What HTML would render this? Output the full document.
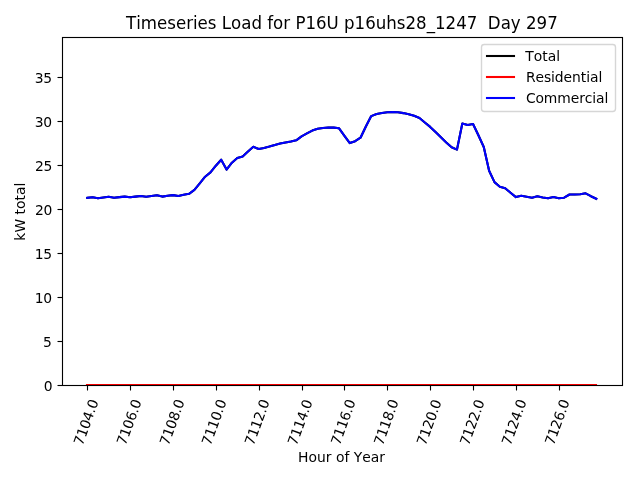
<!DOCTYPE html>
<html lang="en"><head><meta charset="utf-8"><title>Timeseries Load for P16U p16uhs28_1247 Day 297</title>
<style>html,body{margin:0;padding:0;background:#fff;width:640px;height:480px;overflow:hidden}svg{display:block}text{font-family:"DejaVu Sans", "Liberation Sans", sans-serif;fill:#000;font-kerning:none;font-variant-ligatures:none;}.t10{font-size:13.889px}.t12{font-size:16.667px}</style></head><body>
<svg width="640" height="480" viewBox="0 0 640 480">
<rect x="0" y="0" width="640" height="480" fill="#ffffff"/>
<defs><clipPath id="ax"><rect x="61.9" y="37.33" width="560.0" height="348.03000000000003"/></clipPath></defs>
<g fill="none" stroke-width="2.083" stroke-linejoin="round" stroke-linecap="square" clip-path="url(#ax)">
<polyline stroke="#000000" points="87.23,197.80 92.59,197.20 97.95,198.20 103.31,197.50 108.66,196.80 114.02,197.80 119.38,197.10 124.74,196.60 130.10,197.30 135.46,196.60 140.81,195.95 146.17,196.70 151.53,195.95 156.89,195.20 162.25,196.60 167.61,195.70 172.97,195.10 178.32,195.95 183.68,194.80 189.04,193.80 194.40,189.95 199.76,183.40 205.12,176.70 210.48,172.40 215.83,165.70 221.19,159.70 226.55,169.60 231.91,162.70 237.27,157.95 242.63,156.45 247.99,151.45 253.34,146.80 258.70,148.95 264.06,147.95 269.42,146.60 274.78,144.95 280.14,143.60 285.49,142.45 290.85,141.45 296.21,140.30 301.57,136.30 306.93,133.45 312.29,130.60 317.65,128.80 323.00,127.95 328.36,127.45 333.72,127.60 339.08,128.30 344.44,135.80 349.80,143.10 355.16,141.20 360.51,137.70 365.87,126.45 371.23,116.10 376.59,113.95 381.95,112.95 387.31,112.30 392.66,112.10 398.02,112.30 403.38,113.10 408.74,114.20 414.10,115.80 419.46,117.95 424.82,122.45 430.17,126.90 435.53,132.10 440.89,137.30 446.25,142.45 451.61,147.30 456.97,149.60 462.33,123.55 467.68,125.05 473.04,123.95 478.40,135.20 483.76,147.05 489.12,170.80 494.48,182.10 499.83,186.70 505.19,188.30 510.55,192.70 515.91,197.10 521.27,195.80 526.63,196.80 531.99,197.70 537.34,196.30 542.70,197.45 548.06,198.20 553.42,197.10 558.78,198.20 564.14,197.70 569.50,194.50 574.85,194.50 580.21,194.20 585.57,193.30 590.93,196.20 596.29,198.80"/>
<line stroke="#ff0000" stroke-linecap="butt" x1="85.96" y1="385.0" x2="597.04" y2="385.0"/>
<polyline stroke="#0000ff" points="87.23,197.80 92.59,197.20 97.95,198.20 103.31,197.50 108.66,196.80 114.02,197.80 119.38,197.10 124.74,196.60 130.10,197.30 135.46,196.60 140.81,195.95 146.17,196.70 151.53,195.95 156.89,195.20 162.25,196.60 167.61,195.70 172.97,195.10 178.32,195.95 183.68,194.80 189.04,193.80 194.40,189.95 199.76,183.40 205.12,176.70 210.48,172.40 215.83,165.70 221.19,159.70 226.55,169.60 231.91,162.70 237.27,157.95 242.63,156.45 247.99,151.45 253.34,146.80 258.70,148.95 264.06,147.95 269.42,146.60 274.78,144.95 280.14,143.60 285.49,142.45 290.85,141.45 296.21,140.30 301.57,136.30 306.93,133.45 312.29,130.60 317.65,128.80 323.00,127.95 328.36,127.45 333.72,127.60 339.08,128.30 344.44,135.80 349.80,143.10 355.16,141.20 360.51,137.70 365.87,126.45 371.23,116.10 376.59,113.95 381.95,112.95 387.31,112.30 392.66,112.10 398.02,112.30 403.38,113.10 408.74,114.20 414.10,115.80 419.46,117.95 424.82,122.45 430.17,126.90 435.53,132.10 440.89,137.30 446.25,142.45 451.61,147.30 456.97,149.60 462.33,123.55 467.68,125.05 473.04,123.95 478.40,135.20 483.76,147.05 489.12,170.80 494.48,182.10 499.83,186.70 505.19,188.30 510.55,192.70 515.91,197.10 521.27,195.80 526.63,196.80 531.99,197.70 537.34,196.30 542.70,197.45 548.06,198.20 553.42,197.10 558.78,198.20 564.14,197.70 569.50,194.50 574.85,194.50 580.21,194.20 585.57,193.30 590.93,196.20 596.29,198.80"/>
</g>
<g stroke="#000" stroke-width="1.111" fill="none">
<line x1="87.5" y1="385.5" x2="87.5" y2="390.5"/>
<line x1="130.5" y1="385.5" x2="130.5" y2="390.5"/>
<line x1="173.5" y1="385.5" x2="173.5" y2="390.5"/>
<line x1="216.5" y1="385.5" x2="216.5" y2="390.5"/>
<line x1="259.5" y1="385.5" x2="259.5" y2="390.5"/>
<line x1="302.5" y1="385.5" x2="302.5" y2="390.5"/>
<line x1="344.5" y1="385.5" x2="344.5" y2="390.5"/>
<line x1="387.5" y1="385.5" x2="387.5" y2="390.5"/>
<line x1="430.5" y1="385.5" x2="430.5" y2="390.5"/>
<line x1="473.5" y1="385.5" x2="473.5" y2="390.5"/>
<line x1="516.5" y1="385.5" x2="516.5" y2="390.5"/>
<line x1="559.5" y1="385.5" x2="559.5" y2="390.5"/>
<line x1="62.5" y1="385.5" x2="57.5" y2="385.5"/>
<line x1="62.5" y1="341.5" x2="57.5" y2="341.5"/>
<line x1="62.5" y1="297.5" x2="57.5" y2="297.5"/>
<line x1="62.5" y1="253.5" x2="57.5" y2="253.5"/>
<line x1="62.5" y1="209.5" x2="57.5" y2="209.5"/>
<line x1="62.5" y1="165.5" x2="57.5" y2="165.5"/>
<line x1="62.5" y1="121.5" x2="57.5" y2="121.5"/>
<line x1="62.5" y1="77.5" x2="57.5" y2="77.5"/>
<rect x="62.5" y="37.5" width="560.0" height="348.0" stroke-linejoin="miter"/>
</g>
<g class="t10" text-anchor="middle" style="letter-spacing:-0.215px">
<text transform="translate(85.89,422.28) rotate(-70)" x="0" y="5.0">7104.0</text>
<text transform="translate(129.00,422.18) rotate(-70)" x="0" y="5.0">7106.0</text>
<text transform="translate(171.93,422.22) rotate(-70)" x="0" y="5.0">7108.0</text>
<text transform="translate(213.95,422.24) rotate(-70)" x="0" y="5.0">7110.0</text>
<text transform="translate(256.98,422.25) rotate(-70)" x="0" y="5.0">7112.0</text>
<text transform="translate(299.97,422.29) rotate(-70)" x="0" y="5.0">7114.0</text>
<text transform="translate(343.01,422.13) rotate(-70)" x="0" y="5.0">7116.0</text>
<text transform="translate(386.03,422.22) rotate(-70)" x="0" y="5.0">7118.0</text>
<text transform="translate(428.94,422.31) rotate(-70)" x="0" y="5.0">7120.0</text>
<text transform="translate(472.02,422.32) rotate(-70)" x="0" y="5.0">7122.0</text>
<text transform="translate(513.96,422.27) rotate(-70)" x="0" y="5.0">7124.0</text>
<text transform="translate(557.02,422.20) rotate(-70)" x="0" y="5.0">7126.0</text>
</g>
<g class="t10" text-anchor="end" style="letter-spacing:-0.3px">
<text x="52.40" y="391">0</text>
<text x="51.54" y="347">5</text>
<text x="51.70" y="303">10</text>
<text x="51.76" y="259">15</text>
<text x="52.16" y="215">20</text>
<text x="52.08" y="171">25</text>
<text x="51.73" y="127">30</text>
<text x="51.85" y="83">35</text>
</g>
<text class="t10" text-anchor="middle" x="341.5" y="462">Hour of Year</text>
<text class="t10" text-anchor="middle" transform="translate(25,211.7) rotate(-90)">kW total</text>
<text class="t12" text-anchor="middle" transform="translate(341.9,29) scale(0.9984,1.07)" xml:space="preserve" style="white-space:pre">Timeseries Load for P16U p16uhs28_1247  Day 297</text>
<rect x="481.5" y="44.5" width="134.0" height="67.0" rx="2.8" ry="2.8" fill="#ffffff" fill-opacity="0.8" stroke="#cccccc" stroke-opacity="0.8" stroke-width="1.389"/>
<g fill="none" stroke-width="2.083" stroke-linecap="square">
<line stroke="#000000" x1="487" y1="56" x2="514" y2="56"/>
<line stroke="#ff0000" x1="487" y1="77" x2="514" y2="77"/>
<line stroke="#0000ff" x1="487" y1="98" x2="514" y2="98"/>
</g>
<g class="t10">
<text x="525.3" y="60.6" style="letter-spacing:0px">Total</text>
<text x="525.9" y="81.6" style="letter-spacing:-0.07px">Residential</text>
<text x="525.9" y="103.4" style="letter-spacing:-0.1px">Commercial</text>
</g>
</svg></body></html>
